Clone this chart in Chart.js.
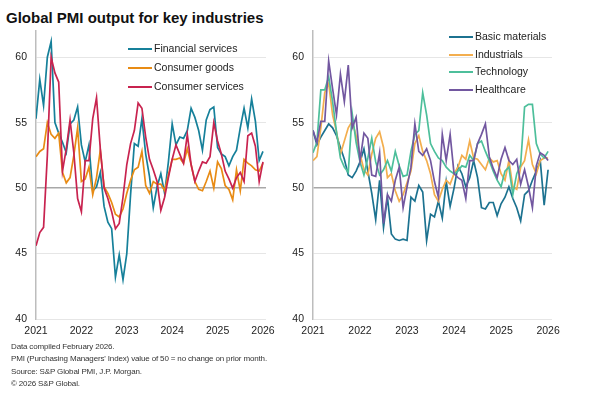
<!DOCTYPE html>
<html>
<head>
<meta charset="utf-8">
<script src="https://cdn.jsdelivr.net/npm/chart.js@4.4.1/dist/chart.umd.min.js"></script>
<style>
body { margin: 0; width: 589px; height: 396px; background: #fff; position: relative; overflow: hidden;
       font-family: 'Liberation Sans', Arial, sans-serif; color: #222; }
#title { position: absolute; left: 6px; top: 9px; line-height: 18px; font-size: 15px; font-weight: bold; color: #111; }
.panel { position: absolute; top: 0; }
#leftPanel { left: 0; }
#rightPanel { left: 276px; }
.legend { position: absolute; font-size: 10.5px; color: #222; }
.legend div { white-space: nowrap; }
.legend span { display: inline-block; width: 24px; border-top: 2px solid; vertical-align: middle; margin-right: 2px; }
#leftLegend { left: 128px; top: 39px; }
#leftLegend div { height: 19px; line-height: 19px; }
#rightLegend { left: 449px; top: 28px; }
#rightLegend div { height: 17.6px; line-height: 17.6px; }
#notes { position: absolute; left: 11px; top: 341px; font-size: 8px; line-height: 12.4px; color: #333; letter-spacing: -0.15px; }
</style>
</head>
<body>
<div id="title">Global PMI output for key industries</div>
<div class="panel" id="leftPanel"><canvas id="leftChart" width="285" height="345"></canvas></div>
<div class="panel" id="rightPanel"><canvas id="rightChart" width="313" height="345"></canvas></div>
<div class="legend" id="leftLegend"></div>
<div class="legend" id="rightLegend"></div>
<div id="notes">
  <div>Data compiled February 2026.</div>
  <div>PMI (Purchasing Managers' Index) value of 50 = no change on prior month.</div>
  <div>Source: S&amp;P Global PMI, J.P. Morgan.</div>
  <div>&copy; 2026 S&amp;P Global.</div>
</div>
<script>
// monthly readings, Jan 2021 .. Jan 2026
var yearLabels = ['2021', '2022', '2023', '2024', '2025', '2026'];

var financialServices = [55.3, 58.3, 56.3, 60.0, 61.2, 55.0, 54.2, 53.5, 52.7, 54.9,
    55.2, 56.2, 53.3, 52.0, 53.3, 49.8, 50.1, 51.2, 48.6, 47.4,
    46.9, 43.2, 44.9, 43.0, 45.0, 49.5, 53.4, 53.2, 55.3, 52.6,
    50.9, 48.5, 50.1, 51.1, 49.6, 52.0, 54.9, 53.3, 53.9, 53.8,
    54.4, 56.1, 55.4, 54.4, 52.9, 55.2, 56.0, 56.2, 53.1, 52.6,
    52.4, 51.7, 52.4, 52.9, 54.6, 56.1, 54.6, 56.8, 55.1, 52.1, 52.8];
var consumerGoods = [52.4, 52.8, 53.0, 55.0, 54.1, 53.8, 54.2, 51.2, 50.4, 50.8,
    52.5, 54.6, 50.5, 50.7, 51.6, 49.5, 50.8, 52.9, 50.1, 49.6,
    48.9, 48.0, 47.8, 48.4, 49.6, 50.6, 51.4, 51.6, 52.8, 50.2,
    49.6, 50.5, 50.3, 50.3, 49.8, 51.0, 52.2, 52.2, 52.3, 51.9,
    53.0, 51.8, 50.5, 49.9, 49.8, 50.5, 51.3, 50.0, 52.0, 51.5,
    50.2, 49.9, 49.1, 51.4, 49.8, 52.2, 51.9, 51.7, 51.4, 51.3, 51.9];
var consumerServices = [45.6, 46.6, 47.0, 52.5, 60.0, 58.8, 58.1, 51.3, 53.0, 55.2,
    52.7, 49.2, 48.2, 52.1, 52.1, 55.3, 56.9, 53.0, 50.0, 49.2,
    48.2, 46.9, 47.3, 49.3, 51.8, 53.4, 54.4, 56.5, 56.1, 53.9,
    52.2, 51.4, 50.5, 48.3, 49.3, 50.8, 52.2, 53.3, 52.6, 51.9,
    54.1, 51.8, 50.5, 51.3, 52.0, 51.9, 52.4, 55.0, 53.6, 52.6,
    51.3, 50.7, 50.0, 50.8, 51.2, 50.5, 54.0, 54.2, 53.2, 50.5, 52.0];

var basicMaterials = [54.4, 53.3, 53.9, 54.4, 54.9, 54.6, 54.0, 53.1, 52.2, 51.0,
    50.8, 51.3, 52.0, 53.0, 51.3, 49.6, 47.6, 50.6, 47.0, 49.3,
    46.5, 46.1, 46.0, 46.1, 46.0, 49.3, 49.0, 50.2, 49.7, 46.0,
    48.0, 47.8, 49.0, 47.7, 50.5, 48.6, 50.0, 51.7, 51.1, 50.1,
    50.8, 52.1, 50.8, 48.5, 48.4, 48.9, 48.9, 47.9, 48.8, 49.3,
    50.1, 49.2, 48.5, 47.5, 49.5, 49.8, 50.6, 51.3, 52.1, 48.7, 51.4];
var industrials = [52.1, 52.4, 54.6, 57.3, 58.0, 55.6, 54.3, 52.6, 53.6, 54.6,
    55.1, 54.0, 52.6, 51.4, 51.0, 52.6, 53.8, 54.3, 53.1, 50.8,
    51.1, 49.8, 49.0, 49.5, 50.4, 51.3, 53.4, 54.0, 52.8, 52.1,
    51.1, 49.5, 49.0, 49.9, 50.6, 50.3, 51.1, 51.6, 52.5, 52.2,
    53.6, 52.3, 52.2, 51.8, 51.4, 52.3, 52.0, 52.1, 51.1, 50.6,
    52.1, 50.1, 49.9, 51.6, 52.1, 53.7, 51.8, 51.1, 52.1, 52.3, 52.3];
var technology = [52.7, 53.5, 57.5, 57.5, 58.5, 56.6, 54.3, 52.3, 51.6, 51.2,
    55.7, 53.5, 52.0, 51.0, 52.3, 53.8, 52.0, 51.0, 51.4, 52.1,
    51.3, 52.8, 51.7, 50.9, 51.0, 52.8, 54.1, 54.4, 57.3, 55.6,
    53.4, 52.8, 52.3, 52.1, 51.6, 51.3, 51.1, 51.3, 51.7, 51.6,
    52.5, 52.1, 53.4, 53.6, 52.8, 52.1, 51.3, 50.6, 50.1, 51.3,
    51.6, 49.5, 51.1, 51.8, 56.2, 56.4, 56.4, 53.4, 52.6, 52.3, 52.8];
var healthcare = [54.4, 53.5, 55.1, 55.1, 59.7, 57.6, 55.6, 58.7, 56.6, 59.4,
    54.6, 55.4, 52.1, 54.2, 53.8, 51.0, 50.9, 52.7, 47.3, 49.5,
    49.0, 50.6, 51.6, 48.5, 50.1, 51.6, 54.9, 52.8, 52.5, 53.0,
    52.1, 50.5, 49.3, 54.1, 52.1, 54.1, 51.1, 50.8, 50.6, 49.2,
    52.1, 52.1, 53.4, 54.1, 54.9, 52.4, 51.5, 50.8, 52.2, 53.1,
    52.1, 51.8, 52.2, 50.3, 51.4, 50.1, 48.5, 51.7, 52.7, 52.5, 52.1];

var fontFamily = "'Liberation Sans', Arial, sans-serif";

function toPoints(values){
    return values.map((v, i) => ({x: i, y: v}));
}

function lineSet(label, values, color, order){
    return {
        label: label,
        data: toPoints(values),
        borderColor: color,
        backgroundColor: color,
        borderWidth: 1.7,
        pointRadius: 0,
        tension: 0,
        fill: false,
        order: order
    };
}

function makeOptions(yWidth, xMax, rightPad){
    return {
        responsive: false,
        animation: false,
        layout: { padding: { top: 31, right: rightPad, bottom: 0, left: 0 } },
        plugins: { legend: { display: false }, tooltip: { enabled: false } },
        scales: {
            x: {
                type: 'linear',
                min: 0,
                max: xMax,
                afterFit: function(s){ s.height = 26; },
                afterBuildTicks: function(s){
                    s.ticks = yearLabels.map((y, i) => ({value: i * 12}));
                },
                ticks: {
                    padding: 6,
                    maxRotation: 0,
                    autoSkip: false,
                    color: '#222',
                    font: { family: fontFamily, size: 10.5 },
                    callback: function(value){ return yearLabels[value / 12]; }
                },
                grid: { display: false, drawTicks: false },
                border: { display: false }
            },
            y: {
                min: 40,
                max: 62,
                afterFit: function(s){ s.width = yWidth; },
                afterBuildTicks: function(s){
                    s.ticks = s.ticks.filter(t => t.value % 5 === 0);
                },
                ticks: {
                    stepSize: 5,
                    padding: 9,
                    color: '#222',
                    font: { family: fontFamily, size: 10.5 }
                },
                grid: {
                    drawTicks: false,
                    color: ctx => ctx.tick && ctx.tick.value === 50 ? '#a8a8a8' : '#e6e6e6',
                    lineWidth: ctx => ctx.tick && ctx.tick.value === 50 ? 1.5 : 1
                },
                border: { color: '#bdbdbd', width: 1.5 }
            }
        }
    };
}

var leftCfg = {
    type: 'line',
    data: {
        datasets: [
            lineSet('Financial services', financialServices, '#16809a', 3),
            lineSet('Consumer goods', consumerGoods, '#e88b14', 2),
            lineSet('Consumer services', consumerServices, '#c8234f', 1)
        ]
    },
    options: makeOptions(36, 60.8, 19)
};

var rightCfg = {
    type: 'line',
    data: {
        datasets: [
            lineSet('Basic materials', basicMaterials, '#1c7290', 4),
            lineSet('Industrials', industrials, '#f3ae4e', 3),
            lineSet('Technology', technology, '#4dbf9b', 2),
            lineSet('Healthcare', healthcare, '#7257a0', 1)
        ]
    },
    options: makeOptions(37, 61.0, 37)
};

function buildLegend(id, cfg){
    var box = document.getElementById(id);
    cfg.data.datasets.forEach(ds => {
        var row = document.createElement('div');
        var swatch = document.createElement('span');
        swatch.style.borderTopColor = ds.borderColor;
        row.appendChild(swatch);
        row.appendChild(document.createTextNode(ds.label));
        box.appendChild(row);
    });
}

window.onload = function(){
    window.leftChart = new Chart(document.getElementById('leftChart').getContext('2d'), leftCfg);
    window.rightChart = new Chart(document.getElementById('rightChart').getContext('2d'), rightCfg);
    buildLegend('leftLegend', leftCfg);
    buildLegend('rightLegend', rightCfg);
};
</script>
</body>
</html>
